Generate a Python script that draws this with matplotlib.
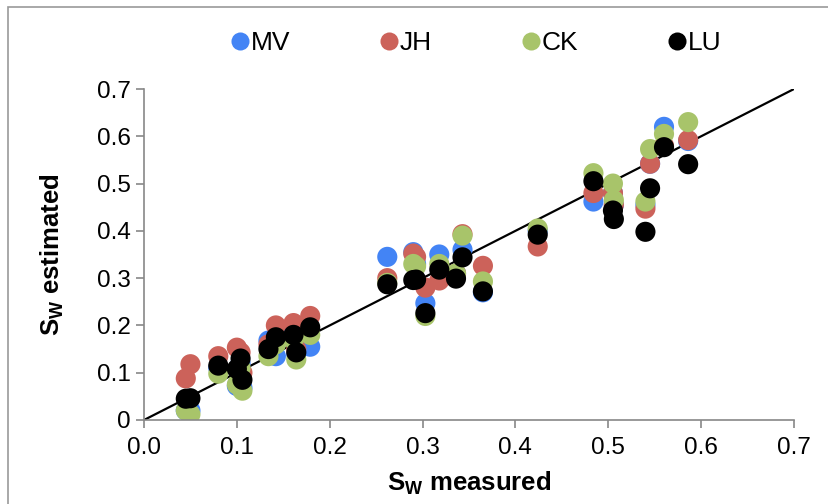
import matplotlib
matplotlib.use("Agg")
import matplotlib.pyplot as plt
from matplotlib.lines import Line2D
from matplotlib.patches import Rectangle

plt.rcParams['font.family'] = ['Liberation Sans', 'DejaVu Sans']
plt.rcParams['mathtext.fontset'] = 'custom'
plt.rcParams['mathtext.rm'] = 'Liberation Sans:bold'
plt.rcParams['mathtext.bf'] = 'Liberation Sans:bold'

# measured Sw for each sample
measured = [0.045, 0.050, 0.080, 0.100, 0.104, 0.106, 0.134, 0.142, 0.161, 0.164, 0.179,
            0.262, 0.290, 0.293, 0.303, 0.318, 0.336, 0.343, 0.365, 0.424,
            0.484, 0.505, 0.506, 0.540, 0.545, 0.560, 0.586]
mv = [0.020, 0.020, 0.110, 0.072, 0.120, 0.068, 0.168, 0.135, 0.180, 0.140, 0.155,
      0.345, 0.355, 0.330, 0.247, 0.350, 0.310, 0.360, 0.270, 0.400,
      0.462, 0.480, 0.455, 0.455, 0.542, 0.620, 0.590]
jh = [0.088, 0.118, 0.135, 0.153, 0.143, 0.100, 0.160, 0.200, 0.205, 0.150, 0.220,
      0.300, 0.352, 0.345, 0.280, 0.295, 0.310, 0.393, 0.326, 0.367,
      0.480, 0.480, 0.455, 0.447, 0.542, 0.580, 0.592]
ck = [0.020, 0.012, 0.098, 0.075, 0.110, 0.062, 0.135, 0.160, 0.170, 0.128, 0.180,
      0.290, 0.330, 0.325, 0.220, 0.330, 0.310, 0.390, 0.293, 0.405,
      0.522, 0.500, 0.465, 0.462, 0.573, 0.605, 0.630]
lu = [0.045, 0.046, 0.115, 0.108, 0.130, 0.085, 0.150, 0.175, 0.180, 0.143, 0.196,
      0.287, 0.296, 0.297, 0.226, 0.318, 0.299, 0.344, 0.272, 0.392,
      0.505, 0.443, 0.425, 0.398, 0.490, 0.577, 0.541]

series = [("MV", mv, "#4384F5"), ("JH", jh, "#CC625A"), ("CK", ck, "#A8C46A"), ("LU", lu, "#000000")]
ticks = [0.0, 0.1, 0.2, 0.3, 0.4, 0.5, 0.6, 0.7]

fig = plt.figure(figsize=(8.29, 5.04), dpi=100)
ax = fig.add_axes([144/829, 84/504, 650/829, 331/504])

ax.plot([0, 0.7], [0, 0.7], color='black', lw=1.6, zorder=1)
for name, vals, col in series:
    ax.scatter(measured, vals, s=210, color=col, edgecolors='none', zorder=2, label=name)

ax.set_xlim(0, 0.7)
ax.set_ylim(0, 0.7)
ax.set_xticks(ticks)
ax.set_xticklabels([f"{t:.1f}" for t in ticks])
ax.set_yticks(ticks)
ax.set_yticklabels(["0" if t == 0 else f"{t:.1f}" for t in ticks])
for s in ['top', 'right']:
    ax.spines[s].set_visible(False)
for s in ['left', 'bottom']:
    ax.spines[s].set_color('#888888')
    ax.spines[s].set_linewidth(1.2)
ax.tick_params(axis='both', colors='#888888', labelcolor='black', labelsize=17.5, length=6, width=1.2, direction='out')
ax.tick_params(axis='x', pad=6)

ax.set_xlabel(r'$\mathbf{S_W}$ measured', fontsize=18.5, fontweight='bold', labelpad=8)
ax.set_ylabel(r'$\mathbf{S_W}$ estimated', fontsize=18.5, fontweight='bold', labelpad=22)

handles = [Line2D([], [], marker='o', linestyle='none', markersize=13, markerfacecolor=c, markeredgecolor='none') for _, _, c in series]
fig.legend(handles, [n for n, _, _ in series], loc='center', bbox_to_anchor=(474/829, 1 - 43/504), ncol=4,
           frameon=False, fontsize=19, handletextpad=-0.1, columnspacing=3.25, handlelength=1.0)

fig.patches.append(Rectangle((8/829, -0.1), 1.2, 1.1 - 7/504, transform=fig.transFigure, fill=False,
                             edgecolor='#999999', lw=1.2))

fig.savefig("out.png", dpi=100)
